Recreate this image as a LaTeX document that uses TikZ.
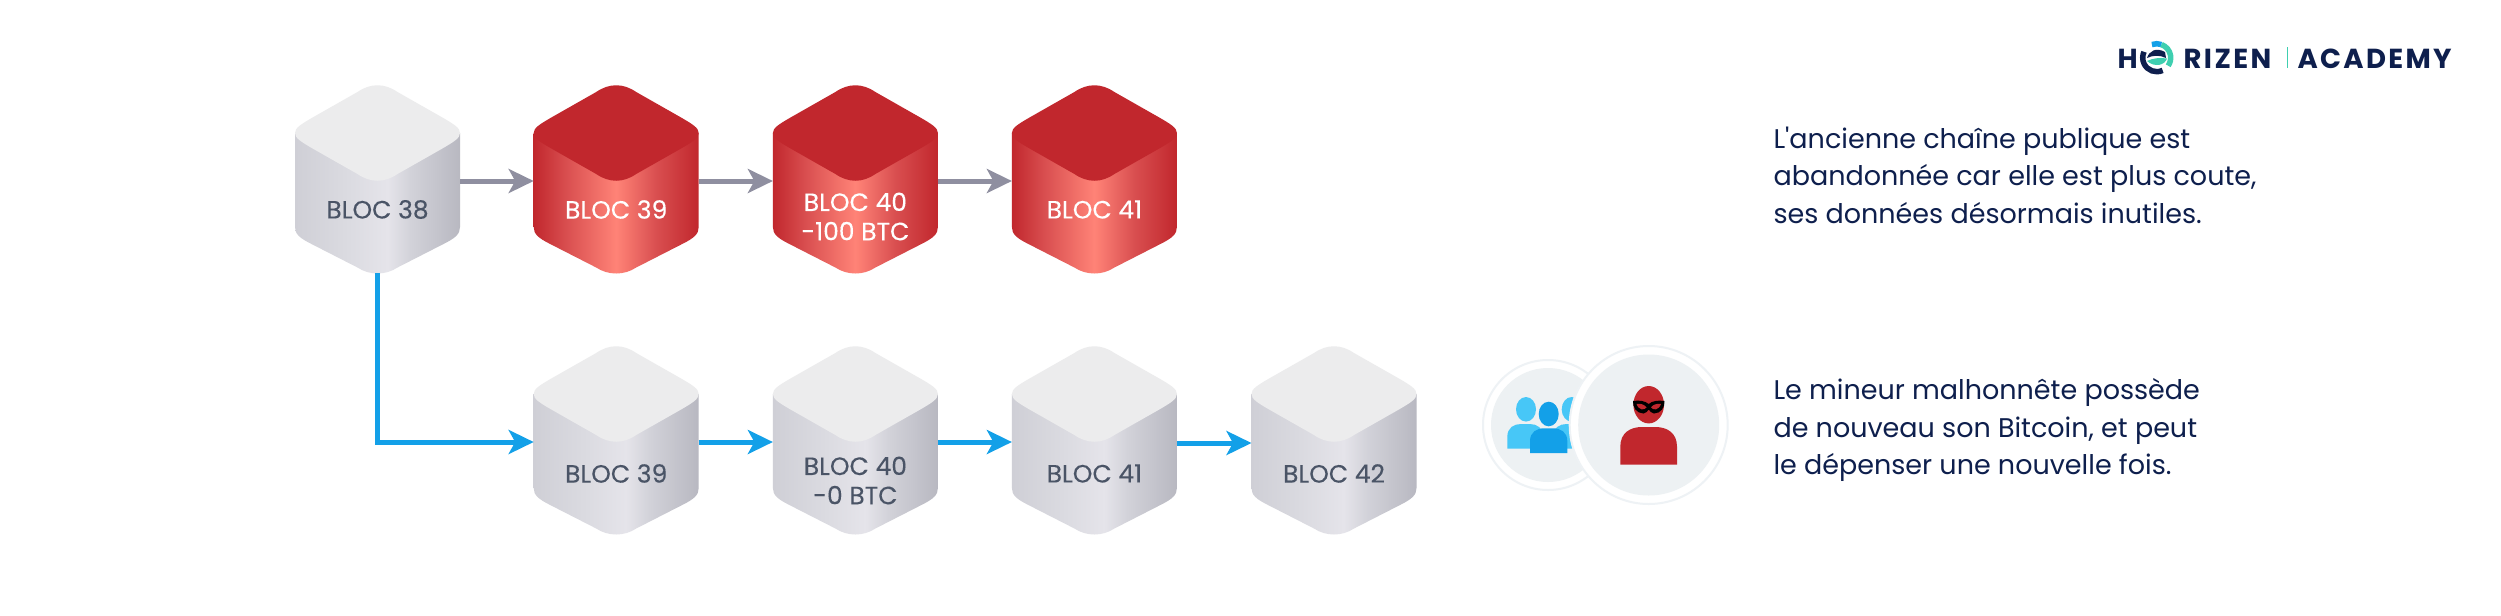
\documentclass[tikz,border=0pt]{standalone}
\usepackage{fontspec}
\setmainfont{Poppins}
\newfontfamily\blockfont[FakeBold=0.2]{Poppins}
\newfontfamily\logofont[LetterSpace=9]{Poppins}
\newfontfamily\logofontb[LetterSpace=8.5]{Poppins}
\newfontfamily\notefont{Poppins}
\usetikzlibrary{arrows.meta,calc}
\definecolor{facegrey}{HTML}{ECECED}
\definecolor{hred}{HTML}{C1272D}
\definecolor{hnavy}{HTML}{0E1F4D}
\definecolor{blocktxt}{HTML}{4A5466}
\definecolor{arrgrey}{HTML}{8F8FA0}
\definecolor{arrblue}{HTML}{13A0E8}
\definecolor{lightblue}{HTML}{47C7F7}
\definecolor{discfill}{HTML}{EDF1F3}
\definecolor{discring}{HTML}{EEF2F5}
\definecolor{logoteal}{HTML}{3FCFB0}
\definecolor{ga}{HTML}{CFCFD6}
\definecolor{gb}{HTML}{DADAE0}
\definecolor{gc}{HTML}{E5E4EA}
\definecolor{gd}{HTML}{D2D2D9}
\definecolor{ge}{HTML}{B8B8C1}
\definecolor{ra}{HTML}{C1272D}
\definecolor{rb}{HTML}{D94F50}
\definecolor{rc}{HTML}{FF8377}
\pgfdeclarehorizontalshading{greyside}{100bp}{
  color(0bp)=(ga); color(25bp)=(ga); color(40bp)=(gb); color(53bp)=(gc);
  color(60bp)=(gd); color(75bp)=(ge); color(100bp)=(ge)}
\pgfdeclarehorizontalshading{redside}{100bp}{
  color(0bp)=(ra); color(25bp)=(ra); color(35bp)=(rb); color(50bp)=(rc);
  color(62bp)=(rb); color(75bp)=(ra); color(100bp)=(ra)}
\tikzset{
  px/.style={x=.4pt,y=-.4pt},
  anchorbox/.style={minimum width=66pt,minimum height=73.6pt,inner sep=0pt,outer sep=0pt},
  blocklabel/.style={font=\blockfont\fontsize{10}{11.7}\selectfont,align=center,inner sep=0pt},
  greylabel/.style={blocklabel,text=blocktxt},
  redlabel/.style={blocklabel,text=white},
  greyarrow/.style={draw=arrgrey,line width=2pt,-{Stealth[length=10pt,width=9.6pt,inset=2.6pt]}},
  bluearrow/.style={draw=arrblue,line width=2pt,-{Stealth[length=10pt,width=9.6pt,inset=2.6pt]}},
  note/.style={font=\notefont\fontsize{10.8}{15}\selectfont,text=hnavy,align=left,inner sep=0pt,anchor=north west},
  logotext/.style={text=hnavy,inner sep=0pt,anchor=base west,font=\logofont\bfseries\fontsize{11}{13}\selectfont},
  logotextb/.style={text=hnavy,inner sep=0pt,anchor=base west,font=\logofontb\bfseries\fontsize{11}{13}\selectfont},
}
% #1 name, #2 cx, #3 face centre y, #4 side shading, #5 face colour
\newcommand{\hblock}[5]{%
  \begin{scope}[shift={(#2,#3)}]
    \shade[shading=#4] (-82.5,0) -- (-82.5,94) .. controls (-82.5,101) and (-78,105) .. (-66,111)
      -- (-20,134.5) .. controls (-8,142.5) and (8,142.5) .. (20,134.5)
      -- (66,111) .. controls (78,105) and (82.5,101) .. (82.5,94) -- (82.5,0) -- cycle;
    \fill[#5] (-20,-41) .. controls (-7,-50) and (7,-50) .. (20,-41)
      -- (64,-16) .. controls (77,-8.5) and (82.5,-5) .. (82.5,0)
      .. controls (82.5,5) and (77,8.5) .. (64,16)
      -- (20,41) .. controls (7,50) and (-7,50) .. (-20,41)
      -- (-64,16) .. controls (-77,8.5) and (-82.5,5) .. (-82.5,0)
      .. controls (-82.5,-5) and (-77,-8.5) .. (-64,-16) -- cycle;
    \node[anchorbox] (#1) at (0,48) {};
  \end{scope}}
% person body in a unit square: x0,y0,width,height,colour
\newcommand{\hbody}[5]{%
  \begin{scope}[shift={(#1,#2)},xscale=#3,yscale=#4]
    \fill[#5] (0,1) -- (0,.52) .. controls (0,.15) and (.18,0) .. (.38,0) -- (.62,0)
      .. controls (.82,0) and (1,.15) .. (1,.52) -- (1,1) -- cycle;
  \end{scope}}
\begin{document}
\begin{tikzpicture}[px]
\useasboundingbox (0,0) rectangle (2501,615);
\fill[white] (0,0) rectangle (2501,615);
% blocks, top row
\hblock{a38}{377.5}{133}{greyside}{facegrey}
\hblock{a39}{616.2}{133}{redside}{hred}
\hblock{a40}{855.4}{133}{redside}{hred}
\hblock{a41}{1094.4}{133}{redside}{hred}
% blocks, bottom row
\hblock{b39}{616.2}{394}{greyside}{facegrey}
\hblock{b40}{855.4}{394}{greyside}{facegrey}
\hblock{b41}{1094.4}{394}{greyside}{facegrey}
\hblock{b42}{1334}{394}{greyside}{facegrey}
% labels
\node[greylabel] (la38) at (377.5,209.5) {BLOC 38};
\node[redlabel] (la39) at (616.2,209.5) {BLOC 39};
\node[redlabel] (la40) at (855.4,216.5) {BLOC 40\\-100 BTC};
\node[redlabel] (la41) at (1094.4,209.5) {BLOC 41};
\node[greylabel] (lb39) at (616.2,473.5) {BLOC 39};
\node[greylabel] (lb40) at (855.4,480.5) {BLOC 40\\-0 BTC};
\node[greylabel] (lb41) at (1094.4,473.5) {BLOC 41};
\node[greylabel] (lb42) at (1334,473.5) {BLOC 42};
% connectors
\draw[greyarrow] (a38.east) -- (a39.west);
\draw[greyarrow] (a39.east) -- (a40.west);
\draw[greyarrow] (a40.east) -- (a41.west);
\draw[bluearrow] (a38.south) |- (b39.west);
\draw[bluearrow] (b39.east) -- (b40.west);
\draw[bluearrow] (b40.east) -- (b41.west);
\draw[bluearrow] ([yshift=-.4pt]b41.east) -- ([yshift=-.4pt]b42.west);
% discs
\fill[discfill] (1548,425) circle (57);
\draw[discring,line width=.8pt] (1548,425) circle (65);
\fill[lightblue] (1526,409.3) ellipse (10 and 12.3);
\hbody{1507.3}{424}{36}{24.7}{lightblue}
\fill[lightblue] (1571.7,409.3) ellipse (10 and 12.3);
\hbody{1553}{424}{36}{24.7}{lightblue}
\fill[arrblue] (1548.7,414) ellipse (10 and 12.3);
\hbody{1530}{428.3}{37.3}{24.7}{arrblue}
\fill[white] (1648.7,425) circle (79);
\fill[discfill] (1648.7,425) circle (70.5);
\draw[discring,line width=.8pt] (1648.7,425) circle (79);
\fill[hred] (1648.7,404.7) ellipse (15.3 and 18.7);
\hbody{1620.3}{427}{56.7}{37.7}{hred}
\fill[black] (1633,401) .. controls (1640,400) and (1645,401) .. (1648.7,404)
  .. controls (1652,401) and (1658,400) .. (1664.5,401)
  .. controls (1665,407) and (1661,413.5) .. (1654,413.5)
  .. controls (1651.5,413.5) and (1650,411) .. (1648.7,409.5)
  .. controls (1647.5,411) and (1646,413.5) .. (1643.5,413.5)
  .. controls (1636.5,413.5) and (1632.5,407) .. (1633,401) -- cycle;
\fill[hred] (1636.5,404) .. controls (1641,403) and (1645,405) .. (1646.5,407.5)
  .. controls (1644,410.5) and (1639,410.5) .. (1636.5,404) -- cycle;
\fill[hred] (1661,404) .. controls (1656.5,403) and (1652.5,405) .. (1651,407.5)
  .. controls (1653.5,410.5) and (1658.5,410.5) .. (1661,404) -- cycle;
% notes
\node[note] (n1) at (1773,126) {L'ancienne chaîne publique est\\abandonnée car elle est plus coute,\\ses données désormais inutiles.};
\node[note] (n2) at (1773,378) {Le mineur malhonnête possède\\de nouveau son Bitcoin, et peut\\le dépenser une nouvelle fois.};
% logo
\node[logotext] (lgh) at (2117,68) {H};
\draw[hnavy,line width=2.2pt] (2156.7,57.7) ++(65:14) arc[start angle=-65,end angle=-205,x radius=14,y radius=-14];
\draw[arrblue,line width=2.2pt] (2156.7,57.7) ++(-110:14) arc[start angle=110,end angle=70,x radius=14,y radius=-14];
\draw[logoteal,line width=2.2pt] (2156.7,57.7) ++(-70:14) arc[start angle=70,end angle=-35,x radius=14,y radius=-14];
\fill[hnavy] (2147,58) .. controls (2149,51) and (2156,47) .. (2165,52) -- (2166,58) .. controls (2160,55) and (2153,55) .. (2147,58) -- cycle;
\fill[logoteal] (2147,61) .. controls (2153,58) and (2160,57.5) .. (2167,58.5) .. controls (2165,65) and (2155,68) .. (2147,61) -- cycle;
\node[logotext] (lgr) at (2183,68) {RIZEN};
\fill[logoteal] (2286.5,47) rectangle (2287.8,68);
\node[logotextb] (lga) at (2297,68) {ACADEMY};
\end{tikzpicture}
\end{document}
